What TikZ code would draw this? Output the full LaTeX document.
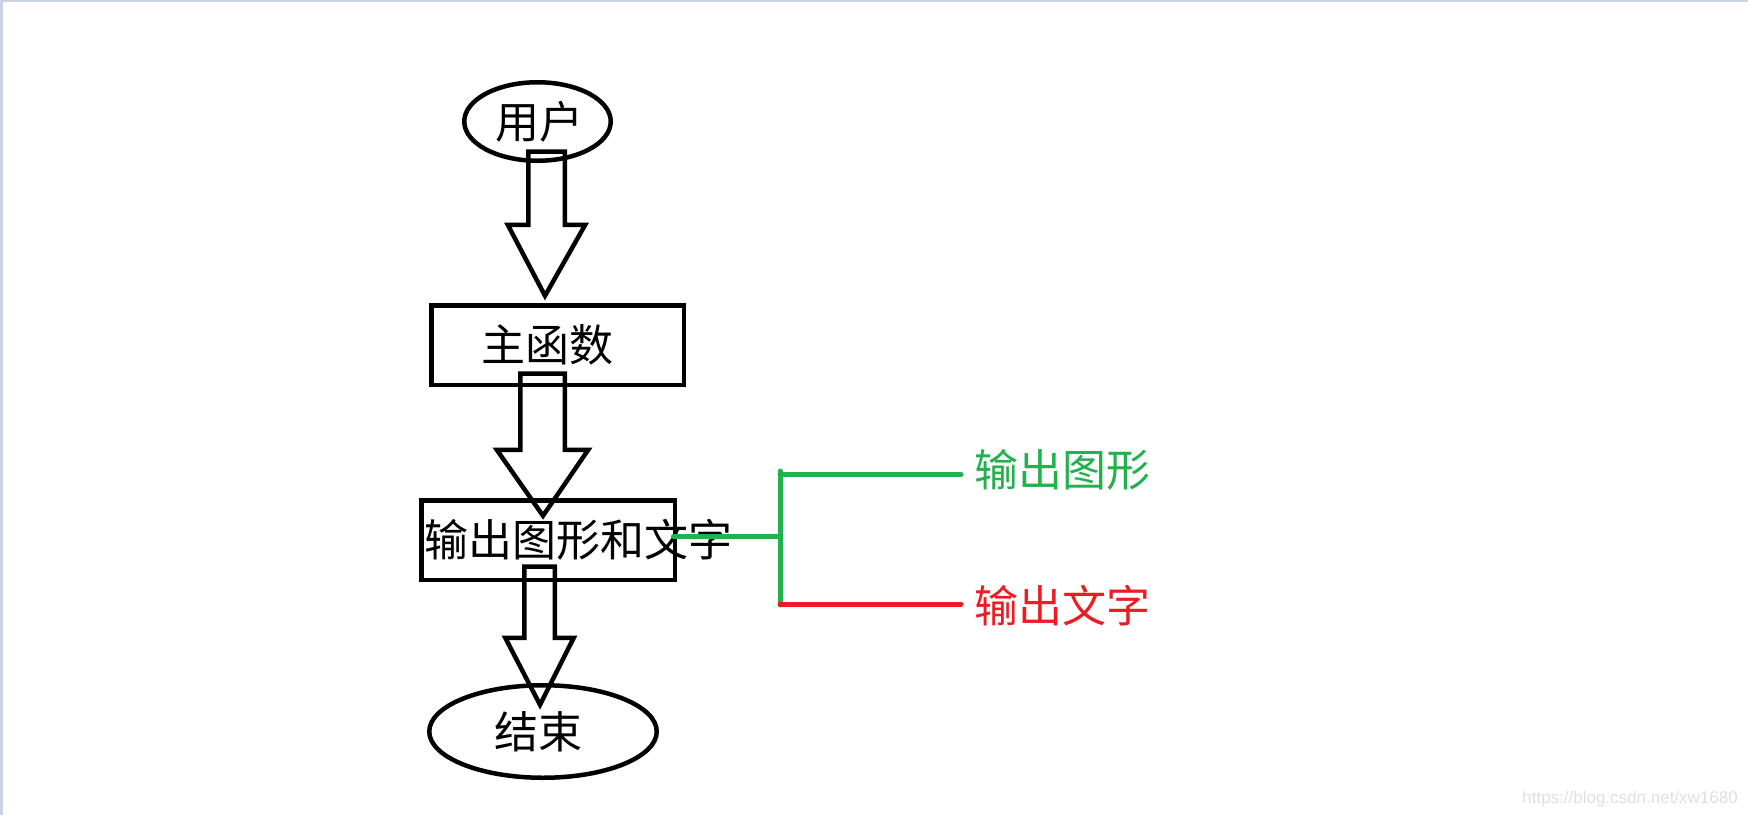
\documentclass[tikz,border=0pt]{standalone}
\usepackage{fontspec}
\newfontfamily\cjk{Noto Sans CJK SC}
\setsansfont{Liberation Sans}
\usetikzlibrary{shapes.geometric,calc}
\definecolor{pgreen}{HTML}{22B14C}
\definecolor{pred}{HTML}{ED1C24}
\definecolor{frameblue}{HTML}{C9D3E5}
\tikzset{
  blk/.style={draw=black,line width=4.5pt,line join=miter},
  ellnode/.style={ellipse,draw=black,line width=4.5pt,inner sep=0pt,font=\cjk\fontsize{44}{52}\selectfont},
  boxnode/.style={rectangle,draw=black,line width=4.5pt,inner sep=0pt,font=\cjk\fontsize{44}{52}\selectfont},
  grn/.style={draw=pgreen,line width=5pt,line cap=round},
  rd/.style={draw=pred,line width=5pt,line cap=round},
  lbl/.style={inner sep=0pt,anchor=west,font=\cjk\fontsize{44}{52}\selectfont}
}
% #1 start (top centre), #2 tip, #3 shaft half width, #4 head half width, #5 head length
\newcommand\blkarrow[5]{%
  \draw[blk] let \p1=(#1), \p2=(#2) in
    (\x1-#3pt,\y1) -- (\x1-#3pt,\y2+#5pt) -- (\x1-#4pt,\y2+#5pt) -- (\x2,\y2)
    -- (\x1+#4pt,\y2+#5pt) -- (\x1+#3pt,\y2+#5pt) -- (\x1+#3pt,\y1) -- cycle;}
\begin{document}
\begin{tikzpicture}[x=1pt,y=-1pt]
\useasboundingbox (0,0) rectangle (1748,815);
\fill[white] (0,0) rectangle (1748,815);
\fill[frameblue] (0,0) rectangle (1748,2);
\fill[frameblue] (0,0) rectangle (3,815);

% nodes
\node[ellnode,minimum width=146.5pt,minimum height=78.5pt] (u) at (537.5,121.5) {\hspace*{3pt}用户};
\node[boxnode,minimum width=252.5pt,minimum height=79.5pt] (m) at (557.5,345) {\hspace*{-20pt}主函数};
\node[boxnode,minimum width=253.5pt,minimum height=79.5pt] (o) at (548,540) {\makebox[0pt]{\hspace*{60pt}输出图形和文字}};
\node[ellnode,minimum width=227.5pt,minimum height=92.5pt] (e) at (543,731.5) {\hspace*{-9pt}\raisebox{-5pt}{结束}};

\node[lbl,text=pgreen] (g) at (974,470) {输出图形};
\node[lbl,text=pred] (r) at (974,606) {输出文字};

% block arrows
\coordinate (a1s) at ($(u.south)+(9,-11.5)$);
\coordinate (a1t) at ($(m.north)+(-12.5,-7.25)$);
\blkarrow{a1s}{a1t}{18.25}{38.75}{71}
\coordinate (a2s) at ($(m.south)+(-15,-13.5)$);
\coordinate (a2t) at ($(o.north)+(-5,17.75)$);
\blkarrow{a2s}{a2t}{22.25}{45.75}{66}
\coordinate (a3s) at ($(o.south)+(-8.5,-15.5)$);
\coordinate (a3t) at ($(e.north)+(-3,21.75)$);
\blkarrow{a3s}{a3t}{15.25}{34.25}{67}

% branch
\coordinate (j) at (780,536);
\coordinate (jt) at (780,471);
\coordinate (jb) at (780,605);
\coordinate (gt) at (780,474.5);
\coordinate (rt) at (780,604);
\draw[grn] ($(o.east |- j)+(-3.5,0)$) -- (j);
\draw[grn] (jt) -- (jb);
\draw[grn] (gt) -- ($(g.west |- gt)+(-13,0)$);
\draw[rd] (rt) -- ($(r.west |- rt)+(-13,0)$);

% watermark
\node[inner sep=0pt,anchor=base east,text=black!12,font=\sffamily\fontsize{17}{20}\selectfont] (wm) at (1738,803) {https://blog.csdn.net/xw1680};
\end{tikzpicture}
\end{document}
